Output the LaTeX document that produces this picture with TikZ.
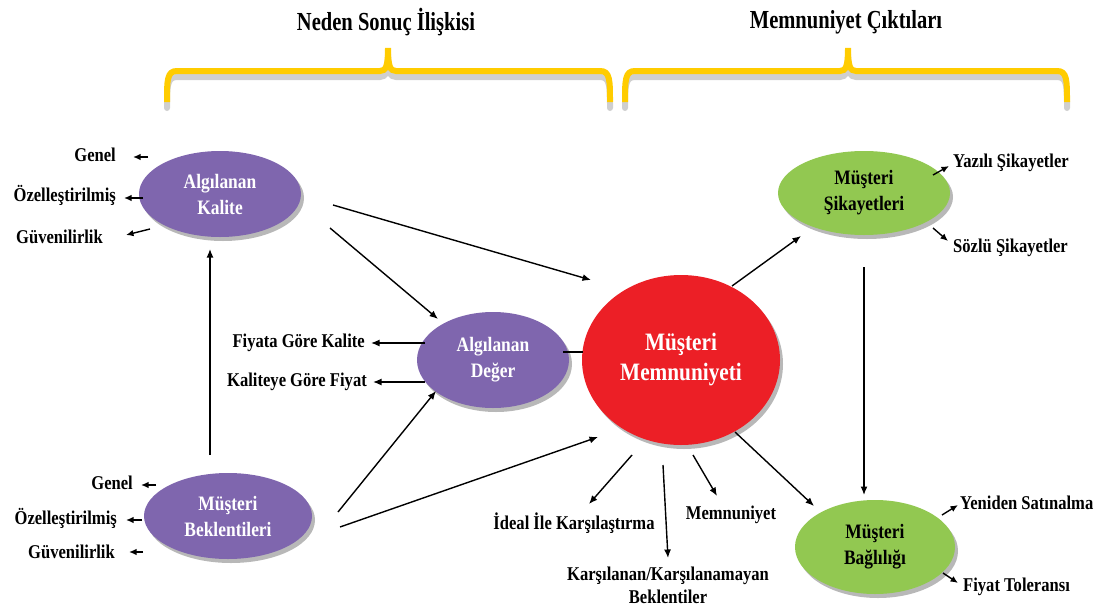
\documentclass[tikz,border=0pt]{standalone}
\usepackage{fontspec}
\setmainfont[FakeStretch=0.85]{Liberation Serif}
\newfontfamily\hdrfont[FakeStretch=0.79]{Liberation Serif}
\usetikzlibrary{shapes.geometric,arrows.meta,shadows}
\definecolor{purp}{HTML}{7F66AE}
\definecolor{redc}{HTML}{EC1F26}
\definecolor{grn}{HTML}{92C851}
\definecolor{ylw}{HTML}{FFCC00}
\definecolor{brgray}{HTML}{CFCFCF}
\newcommand\mybrace[3]{%
  \draw[brgray,line width=6pt,line cap=round] (#1,108) .. controls (#1,86) and (#1,77) .. (#1+10,77) -- (#2-8,77) .. controls (#2-2,77) and (#2,72) .. (#2,54) .. controls (#2,72) and (#2+2,77) .. (#2+8,77) -- (#3-10,77) .. controls (#3,77) and (#3,86) .. (#3,108);
  \draw[ylw,line width=6pt] (#1,102) .. controls (#1,80) and (#1,71) .. (#1+10,71) -- (#2-8,71) .. controls (#2-2,71) and (#2,66) .. (#2,48) .. controls (#2,66) and (#2+2,71) .. (#2+8,71) -- (#3-10,71) .. controls (#3,71) and (#3,80) .. (#3,102);
}
\begin{document}
\begin{tikzpicture}[x=1pt,y=-1pt,
  ell/.style={ellipse, draw=none, inner sep=0pt, align=center,
    font=\fontsize{20.5}{26}\selectfont\bfseries,
    drop shadow={shadow xshift=3pt, shadow yshift=-4pt, opacity=0.28, fill=black}},
  pur/.style={ell, fill=purp, text=white},
  gre/.style={ell, fill=grn, text=black},
  lbl/.style={font=\fontsize{19.5}{23}\selectfont\bfseries, inner sep=0pt, align=center},
  hdr/.style={font=\hdrfont\fontsize{26}{28}\selectfont\bfseries, inner sep=0pt},
  arr/.style={-{Latex[length=8.5pt,width=7pt]}, line width=1.4pt},
  sarr/.style={-{Latex[length=7.5pt,width=6.5pt]}, line width=1.4pt},
  plain/.style={line width=1.4pt}]
\useasboundingbox (0,0) rectangle (1100,608);

% headers and braces
\node[hdr] (hdrA) at (386,22) {Neden Sonuç İlişkisi};
\node[hdr] (hdrB) at (846,22) {Memnuniyet Çıktıları};
\mybrace{167}{388}{610}
\mybrace{625}{848}{1067}

% ellipses
\node[pur, minimum width=162pt, minimum height=86pt] (kal) at (220,194) {Algılanan\\Kalite};
\node[pur, minimum width=168pt, minimum height=86pt] (bek) at (228,516) {Müşteri\\Beklentileri};
\node[pur, minimum width=152pt, minimum height=96pt] (deg) at (493,360) {Algılanan\\Değer};
\node[ell, fill=redc, text=white, font=\fontsize{25}{30}\selectfont\bfseries,
      minimum width=198pt, minimum height=170pt] (mem) at (681,360) {Müşteri\\Memnuniyeti};
\node[gre, minimum width=172pt, minimum height=84pt] (sik) at (864,193) {Müşteri\\Şikayetleri};
\node[gre, minimum width=160pt, minimum height=94pt] (bag) at (875,547) {Müşteri\\Bağlılığı};

% labels
\node[lbl, anchor=east] (kg) at (116,155) {Genel};
\node[lbl, anchor=east] (ko) at (116,195) {Özelleştirilmiş};
\node[lbl, anchor=east] (kv) at (103,237) {Güvenilirlik};
\node[lbl, anchor=east] (bg) at (133,483) {Genel};
\node[lbl, anchor=east] (bo) at (117,518) {Özelleştirilmiş};
\node[lbl, anchor=east] (bv) at (115,552) {Güvenilirlik};
\node[lbl, anchor=east] (dfk) at (365,343) {Fiyata Göre Kalite};
\node[lbl, anchor=east] (dkf) at (367,382) {Kaliteye Göre Fiyat};
\node[lbl] (mid) at (574,523) {İdeal İle Karşılaştırma};
\node[lbl] (mkb) at (668,585) {Karşılanan/Karşılanamayan\\Beklentiler};
\node[lbl] (mmn) at (731,515) {Memnuniyet};
\node[lbl, anchor=west] (sy) at (953,163) {Yazılı Şikayetler};
\node[lbl, anchor=west] (ss) at (953,248) {Sözlü Şikayetler};
\node[lbl, anchor=west] (by) at (960,503) {Yeniden Satınalma};
\node[lbl, anchor=west] (bf) at (963,587) {Fiyat Toleransı};

% arrow end coordinates
\coordinate (kg1) at (148,157); \coordinate (kg2) at (133,157);
\coordinate (ko1) at (143,198); \coordinate (ko2) at (124,198);
\coordinate (kv1) at (150,229); \coordinate (kv2) at (126,235);
\coordinate (bg1) at (156,485); \coordinate (bg2) at (141,485);
\coordinate (bo1) at (142,520); \coordinate (bo2) at (126,520);
\coordinate (bv1) at (143,552); \coordinate (bv2) at (129,552);
\coordinate (df1) at (425,343); \coordinate (df2) at (371,343);
\coordinate (dk1) at (425,382); \coordinate (dk2) at (373,382);
\coordinate (bk1) at (210,455); \coordinate (bk2) at (210,249);
\coordinate (km1) at (333,205); \coordinate (km2) at (591,280);
\coordinate (kd1) at (330,228); \coordinate (kd2) at (438,319);
\coordinate (bd1) at (338,512); \coordinate (bd2) at (436,391);
\coordinate (bm1) at (340,527); \coordinate (bm2) at (598,437);
\coordinate (dm1) at (563,352); \coordinate (dm2) at (583,352);
\coordinate (ms1) at (732,286); \coordinate (ms2) at (801,236);
\coordinate (mb1) at (735,432); \coordinate (mb2) at (814,506);
\coordinate (sb1) at (864,267); \coordinate (sb2) at (864,495);
\coordinate (mi1) at (632,455); \coordinate (mi2) at (589,504);
\coordinate (mk1) at (663,465); \coordinate (mk2) at (668,558);
\coordinate (mn1) at (693,455); \coordinate (mn2) at (717,496);
\coordinate (sy1) at (933,175); \coordinate (sy2) at (949,166);
\coordinate (ss1) at (933,228); \coordinate (ss2) at (948,241);
\coordinate (by1) at (942,515); \coordinate (by2) at (958,505);
\coordinate (bf1) at (943,573); \coordinate (bf2) at (958,583);

% small arrows
\foreach \a in {kg,ko,kv,bg,bo,bv,sy,ss,by,bf}{\draw[sarr] (\a1) -- (\a2);}
\foreach \a in {df,dk}{\draw[arr] (\a1) -- (\a2);}
% main arrows
\foreach \a in {bk,km,kd,bd,bm,ms,mb,sb,mi,mk,mn}{\draw[arr] (\a1) -- (\a2);}
\draw[plain] (dm1) -- (dm2);
\end{tikzpicture}
\end{document}
